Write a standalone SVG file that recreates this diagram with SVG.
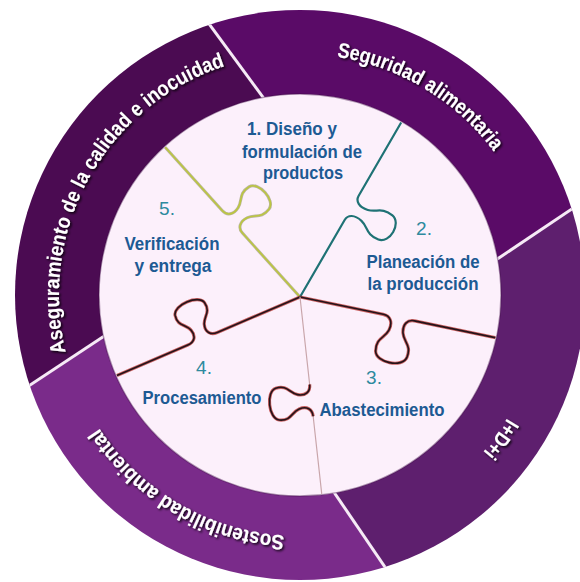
<svg xmlns="http://www.w3.org/2000/svg" width="580" height="582" viewBox="0 0 580 582">
<defs>
  <clipPath id="outerClip"><circle cx="300" cy="295" r="285"/></clipPath>
  <clipPath id="innerClip"><circle cx="300" cy="295" r="200"/></clipPath>
  <path id="ringPath" d="M 541,295 A 241,241 0 1,1 59,295 A 241,241 0 1,1 541,295" fill="none"/>
  <filter id="shadow" x="-10%" y="-30%" width="120%" height="160%">
    <feDropShadow dx="1.5" dy="1.5" stdDeviation="0.8" flood-color="#000" flood-opacity="0.9"/>
  </filter>
</defs>
<style>
  .ring-text { font-family: "Liberation Sans", Arial, sans-serif; font-size: 21px; font-weight: bold; fill: #ffffff; filter: url(#shadow); text-anchor: middle; }
  .label { font-family: "Liberation Sans", Arial, sans-serif; font-size: 18px; font-weight: bold; fill: #1d5a93; text-anchor: middle; }
  .num { font-family: "Liberation Sans", Arial, sans-serif; font-size: 19px; fill: #2e8a9e; text-anchor: middle; }
  .divider { stroke: #f6eaf6; stroke-width: 3; }
  .edge { fill: none; stroke-linecap: round; stroke-linejoin: round; }
  .halo { fill: none; stroke: #b8302c; stroke-width: 3.2; stroke-opacity: 0.75; stroke-linejoin: round; }
  .dark { fill: none; stroke: #24141a; stroke-width: 1.6; stroke-linejoin: round; }
</style>

<g id="ring" clip-path="url(#outerClip)">
  <polygon id="seg-aseguramiento" fill="#4b0b52" points="189,280 -115,481 -300,300 -300,-300 104,-119 329,187"/>
  <polygon id="seg-seguridad" fill="#5a0b67" points="329,187 104,-119 104,-400 900,-400 900,22 850,22 420,311"/>
  <polygon id="seg-idi" fill="#5e1f6e" points="420,311 850,22 950,22 950,950 534,786 276,407"/>
  <polygon id="seg-sostenibilidad" fill="#7a2b8a" points="276,407 534,786 534,950 -300,950 -300,481 -115,481 189,280"/>
  <g id="dividers">
    <line class="divider" x1="329" y1="187" x2="104" y2="-119"/>
    <line class="divider" x1="420" y1="311" x2="850" y2="22"/>
    <line class="divider" x1="276" y1="407" x2="534" y2="786"/>
    <line class="divider" x1="189" y1="280" x2="-115" y2="481"/>
  </g>
</g>

<g id="ring-labels">
  <text class="ring-text"><textPath href="#ringPath" startOffset="879" textLength="360" lengthAdjust="spacingAndGlyphs">Aseguramiento de la calidad e inocuidad</textPath></text>
  <text class="ring-text"><textPath href="#ringPath" startOffset="1266" textLength="188" lengthAdjust="spacingAndGlyphs">Seguridad alimentaria</textPath></text>
  <text class="ring-text"><textPath href="#ringPath" startOffset="150" textLength="42" lengthAdjust="spacingAndGlyphs">I+D+i</textPath></text>
  <text class="ring-text"><textPath href="#ringPath" startOffset="505" textLength="222" lengthAdjust="spacingAndGlyphs">Sostenibilidad ambiental</textPath></text>
</g>

<circle id="inner-disc" cx="300" cy="295" r="201" fill="#fcf0fb" stroke="#3c0a44" stroke-opacity="0.4" stroke-width="1.5"/>

<g id="connectors" clip-path="url(#innerClip)">
  <g id="edge-1-5" transform="translate(300,297) rotate(-132)">
    <path class="edge" stroke="#6b6e2a" stroke-width="3" stroke-opacity="0.45" d="M0,0 L86,0 C92.75,0 96.5,5.5 94.25,13.75 C92,22 83.75,23.38 86,35.75 C88.25,46.75 113.75,46.75 116,35.75 C118.25,23.38 110,22 107.75,13.75 C105.5,5.5 109.25,0 116,0 L215,0"/>
    <path class="edge" stroke="#bcc640" stroke-width="1.6" d="M0,0 L86,0 C92.75,0 96.5,5.5 94.25,13.75 C92,22 83.75,23.38 86,35.75 C88.25,46.75 113.75,46.75 116,35.75 C118.25,23.38 110,22 107.75,13.75 C105.5,5.5 109.25,0 116,0 L215,0"/>
  </g>
  <g id="edge-1-2" transform="translate(300,297) rotate(-59.9)">
    <path class="edge" stroke="#1f7275" stroke-width="2.2" d="M0,0 L89,0 C95.3,0 98.8,6 96.7,15 C94.6,24 86.9,25.5 89,39 C91.1,51 114.9,51 117,39 C119.1,25.5 111.4,24 109.3,15 C107.2,6 110.7,0 117,0 L215,0"/>
  </g>
  <g id="edge-2-3" transform="translate(300,297) rotate(11.76)">
    <path class="halo" d="M0,0 L85,0 C92.2,0 96.2,5.75 93.8,14.38 C91.4,23 82.6,24.44 85,37.38 C87.4,48.88 114.6,48.88 117,37.38 C119.4,24.44 110.6,23 108.2,14.38 C105.8,5.75 109.8,0 117,0 L215,0"/>
    <path class="dark" d="M0,0 L85,0 C92.2,0 96.2,5.75 93.8,14.38 C91.4,23 82.6,24.44 85,37.38 C87.4,48.88 114.6,48.88 117,37.38 C119.4,24.44 110.6,23 108.2,14.38 C105.8,5.75 109.8,0 117,0 L215,0"/>
  </g>
  <g id="edge-4-5" transform="translate(300,297) rotate(156.8)">
    <path class="halo" d="M0,0 L90,0 C97.2,0 101.2,5 98.8,12.5 C96.4,20 87.6,21.25 90,32.5 C92.4,42.5 119.6,42.5 122,32.5 C124.4,21.25 115.6,20 113.2,12.5 C110.8,5 114.8,0 122,0 L215,0"/>
    <path class="dark" d="M0,0 L90,0 C97.2,0 101.2,5 98.8,12.5 C96.4,20 87.6,21.25 90,32.5 C92.4,42.5 119.6,42.5 122,32.5 C124.4,21.25 115.6,20 113.2,12.5 C110.8,5 114.8,0 122,0 L215,0"/>
  </g>
  <g id="edge-3-4" transform="translate(300,297) rotate(83.7)">
    <path class="edge" stroke="#c9a6ab" stroke-width="1.2" d="M0,0 L88,0 M120,0 L215,0"/>
    <path class="halo" d="M88,0 C95.2,0 99.2,5.25 96.8,13.13 C94.4,21 85.6,22.31 88,34.13 C90.4,44.63 117.6,44.63 120,34.13 C122.4,22.31 113.6,21 111.2,13.13 C108.8,5.25 112.8,0 120,0"/>
    <path class="dark" d="M88,0 C95.2,0 99.2,5.25 96.8,13.13 C94.4,21 85.6,22.31 88,34.13 C90.4,44.63 117.6,44.63 120,34.13 C122.4,22.31 113.6,21 111.2,13.13 C108.8,5.25 112.8,0 120,0"/>
  </g>
</g>

<g id="piece-1">
  <text class="label" x="292" y="135" textLength="90" lengthAdjust="spacingAndGlyphs">1. Diseño y</text>
  <text class="label" x="302" y="158" textLength="120" lengthAdjust="spacingAndGlyphs">formulación de</text>
  <text class="label" x="303" y="179" textLength="80" lengthAdjust="spacingAndGlyphs">productos</text>
</g>
<g id="piece-2">
  <text class="num" x="424" y="235">2.</text>
  <text class="label" x="423" y="268" textLength="113" lengthAdjust="spacingAndGlyphs">Planeación de</text>
  <text class="label" x="423" y="290" textLength="111" lengthAdjust="spacingAndGlyphs">la producción</text>
</g>
<g id="piece-3">
  <text class="num" x="374" y="384">3.</text>
  <text class="label" x="382" y="416" textLength="125" lengthAdjust="spacingAndGlyphs">Abastecimiento</text>
</g>
<g id="piece-4">
  <text class="num" x="204" y="374">4.</text>
  <text class="label" x="202" y="404" textLength="119" lengthAdjust="spacingAndGlyphs">Procesamiento</text>
</g>
<g id="piece-5">
  <text class="num" x="167" y="215">5.</text>
  <text class="label" x="172" y="250" textLength="95" lengthAdjust="spacingAndGlyphs">Verificación</text>
  <text class="label" x="173" y="272" textLength="77" lengthAdjust="spacingAndGlyphs">y entrega</text>
</g>
</svg>
